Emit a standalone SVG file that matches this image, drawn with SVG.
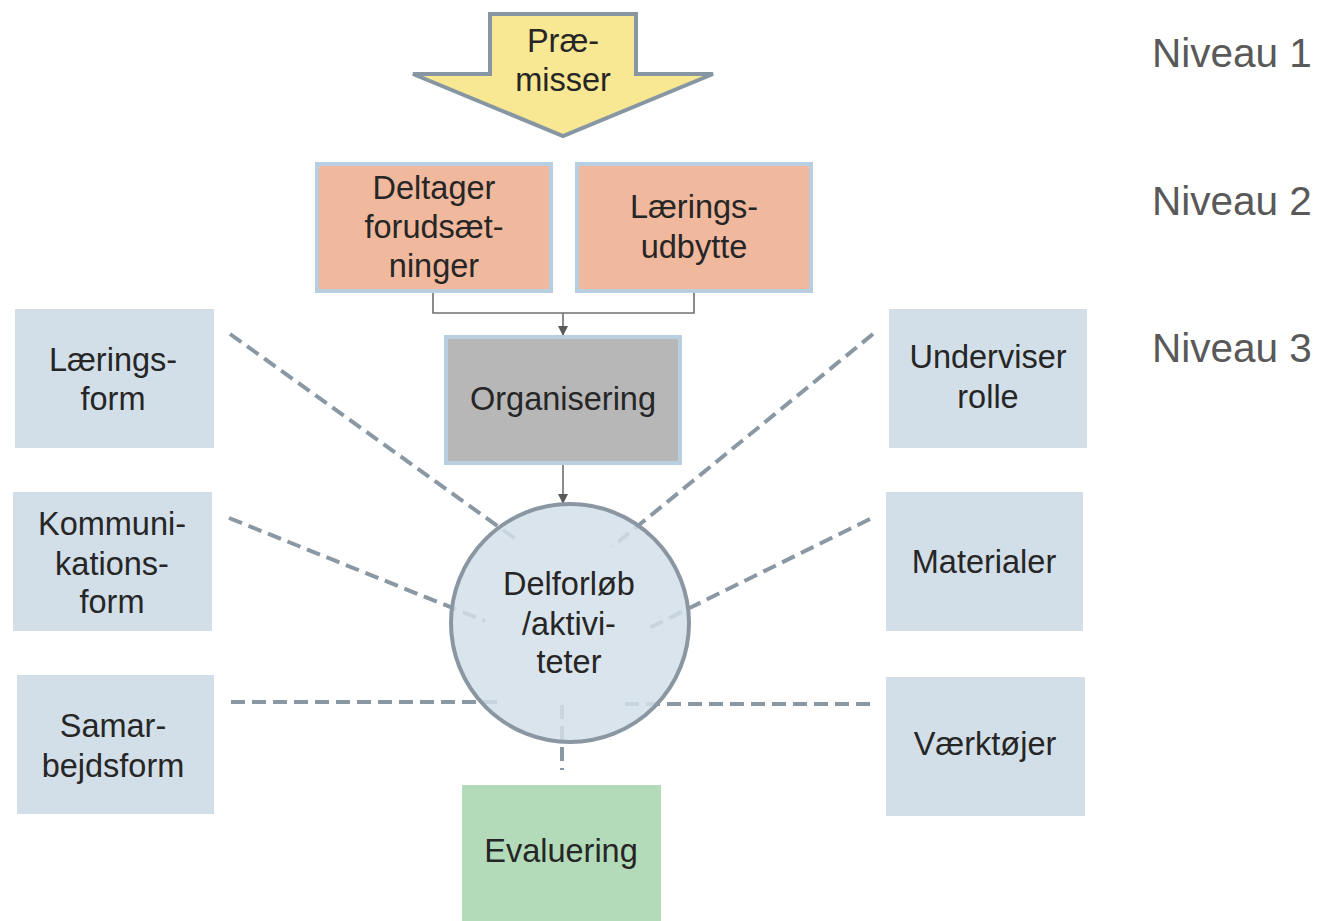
<svg xmlns="http://www.w3.org/2000/svg" width="1322" height="921" viewBox="0 0 1322 921">
<defs>
<style>
text{font-family:"Liberation Sans",Arial,sans-serif;font-size:32.5px;fill:#262626;text-anchor:middle}
.lvl{font-size:40.5px;fill:#595959;text-anchor:start}
.side{fill:#d3dfe8}
.peach{fill:#f0b89d;stroke:#b8cfe2;stroke-width:4}
.dash{stroke:#8a98a4;stroke-width:4;stroke-dasharray:14 7;fill:none}
.conn{stroke:#707070;stroke-width:1.6;fill:none}
</style>
<marker id="ah" viewBox="0 0 10 10" refX="10" refY="5" markerWidth="10" markerHeight="10" markerUnits="userSpaceOnUse" orient="auto">
<path d="M0,0 L10,5 L0,10 Z" fill="#5a5a5a"/>
</marker>
</defs>
<rect width="1322" height="921" fill="#ffffff"/>

<g id="levels">
<text class="lvl" x="1152" y="67">Niveau 1</text>
<text class="lvl" x="1152" y="215">Niveau 2</text>
<text class="lvl" x="1152" y="362">Niveau 3</text>
</g>

<g id="connectors">
<line class="dash" x1="230" y1="334" x2="517" y2="540"/>
<line class="dash" x1="229" y1="518" x2="485" y2="621"/>
<line class="dash" x1="231" y1="702" x2="503" y2="702"/>
<line class="dash" x1="873" y1="334" x2="612" y2="547"/>
<line class="dash" x1="870" y1="519" x2="649" y2="628"/>
<line class="dash" x1="870" y1="704" x2="624" y2="704"/>
<line class="dash" x1="562" y1="705" x2="562" y2="770"/>
<polyline class="conn" points="433,292 433,313 694,313 694,292"/>
<line class="conn" x1="563" y1="313" x2="563" y2="336" marker-end="url(#ah)"/>
<line class="conn" x1="563" y1="464" x2="563" y2="504" marker-end="url(#ah)"/>
</g>

<g id="premisser">
<polygon points="490,14 636,14 636,74 713,74 563,136 413,74 490,74" fill="#f8e793" stroke="#8796a3" stroke-width="4" stroke-linejoin="miter"/>
<text x="563" y="52">Præ-</text>
<text x="563" y="91">misser</text>
</g>

<g id="deltager">
<rect class="peach" x="317" y="164" width="234" height="127"/>
<text x="434" y="199">Deltager</text>
<text x="434" y="238">forudsæt-</text>
<text x="434" y="277">ninger</text>
</g>

<g id="laeringsudbytte">
<rect class="peach" x="577" y="164" width="234" height="127"/>
<text x="694" y="218">Lærings-</text>
<text x="694" y="258">udbytte</text>
</g>

<g id="organisering">
<rect x="446" y="337" width="234" height="126" fill="#b7b7b7" stroke="#b8cfe2" stroke-width="4"/>
<text x="563" y="410">Organisering</text>
</g>

<g id="delforloeb">
<circle cx="570" cy="623" r="119" fill="#d3dfe9" fill-opacity="0.85" stroke="#8a96a1" stroke-width="4"/>
<text x="569" y="595">Delforløb</text>
<text x="569" y="635">/aktivi-</text>
<text x="569" y="673">teter</text>
</g>

<g id="evaluering">
<rect x="462" y="785" width="199" height="136" fill="#b3dbb9"/>
<text x="561" y="862">Evaluering</text>
</g>

<g id="laeringsform">
<rect class="side" x="15" y="309" width="199" height="139"/>
<text x="113" y="371">Lærings-</text>
<text x="113" y="410">form</text>
</g>

<g id="kommunikationsform">
<rect class="side" x="13" y="492" width="199" height="139"/>
<text x="112" y="535">Kommuni-</text>
<text x="112" y="575">kations-</text>
<text x="112" y="613">form</text>
</g>

<g id="samarbejdsform">
<rect class="side" x="17" y="675" width="197" height="139"/>
<text x="113" y="737">Samar-</text>
<text x="113" y="777">bejdsform</text>
</g>

<g id="underviserrolle">
<rect class="side" x="889" y="309" width="198" height="139"/>
<text x="988" y="368">Underviser</text>
<text x="988" y="408">rolle</text>
</g>

<g id="materialer">
<rect class="side" x="886" y="492" width="197" height="139"/>
<text x="984" y="573">Materialer</text>
</g>

<g id="vaerktoejer">
<rect class="side" x="886" y="677" width="199" height="139"/>
<text x="985" y="755">Værktøjer</text>
</g>
</svg>
